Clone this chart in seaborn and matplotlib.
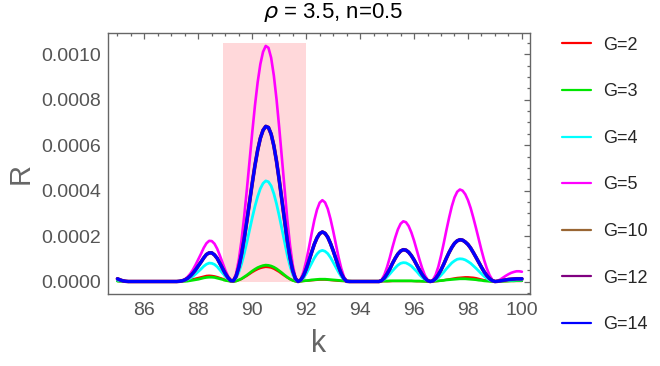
import numpy as np
import pandas as pd
import seaborn as sns
import matplotlib.pyplot as plt
from matplotlib.ticker import MultipleLocator, FormatStrFormatter

# sample grid of k (85.0 ... 100.0, step 0.1)
k = np.round(np.arange(85.0, 100.05, 0.1), 1)

# R values, in units of 1e-4, one row per unit of k
r_g2 = [0.02, 0.01, 0.01, 0, 0, 0, 0, 0, 0, 0,
        0, 0, 0, 0, 0, 0, 0, 0, 0, 0,
        0, 0, 0, 0.01, 0.02, 0.03, 0.05, 0.07, 0.10, 0.13,
        0.16, 0.19, 0.22, 0.25, 0.26, 0.25, 0.23, 0.20, 0.16, 0.12,
        0.07, 0.03, 0.01, 0.00, 0.02, 0.06, 0.11, 0.18, 0.25, 0.33,
        0.41, 0.48, 0.54, 0.59, 0.62, 0.64, 0.63, 0.61, 0.56, 0.49,
        0.42, 0.33, 0.25, 0.17, 0.10, 0.05, 0.01, 0.00, 0.01, 0.02,
        0.03, 0.04, 0.05, 0.06, 0.07, 0.08, 0.08, 0.08, 0.07, 0.06,
        0.05, 0.04, 0.03, 0.02, 0.02, 0.01, 0.01, 0.01, 0.00, 0.00,
        0, 0, 0, 0, 0, 0, 0, 0, 0.01, 0.01,
        0.01, 0.01, 0.02, 0.02, 0.02, 0.02, 0.02, 0.02, 0.02, 0.02,
        0.02, 0.01, 0.01, 0.01, 0.00, 0.00, 0.00, 0.00, 0.01, 0.02,
        0.04, 0.06, 0.08, 0.10, 0.12, 0.14, 0.16, 0.17, 0.18, 0.19,
        0.19, 0.18, 0.17, 0.15, 0.12, 0.09, 0.06, 0.04, 0.02, 0.01,
        0.00, 0.00, 0.01, 0.01, 0.01, 0.02, 0.02, 0.02, 0.02, 0.02,
        0.02]

r_g3 = [0.02, 0.01, 0.01, 0, 0, 0, 0, 0, 0, 0,
        0, 0, 0, 0, 0, 0, 0, 0, 0, 0,
        0, 0, 0, 0.00, 0.01, 0.01, 0.02, 0.04, 0.06, 0.08,
        0.10, 0.13, 0.16, 0.18, 0.19, 0.19, 0.18, 0.15, 0.12, 0.09,
        0.05, 0.03, 0.01, 0.00, 0.02, 0.07, 0.12, 0.20, 0.28, 0.37,
        0.46, 0.54, 0.61, 0.66, 0.70, 0.72, 0.71, 0.68, 0.63, 0.56,
        0.47, 0.38, 0.28, 0.19, 0.11, 0.05, 0.01, 0.00, 0.01, 0.03,
        0.04, 0.05, 0.07, 0.08, 0.09, 0.10, 0.10, 0.10, 0.09, 0.08,
        0.07, 0.06, 0.05, 0.04, 0.03, 0.02, 0.02, 0.01, 0.01, 0.01,
        0.01, 0.01, 0.01, 0.01, 0.01, 0.01, 0.01, 0.01, 0.02, 0.02,
        0.02, 0.03, 0.03, 0.03, 0.03, 0.03, 0.03, 0.03, 0.03, 0.03,
        0.02, 0.02, 0.02, 0.01, 0.01, 0.00, 0.00, 0.01, 0.02, 0.03,
        0.04, 0.05, 0.07, 0.08, 0.09, 0.10, 0.11, 0.12, 0.12, 0.12,
        0.11, 0.10, 0.09, 0.08, 0.06, 0.05, 0.03, 0.02, 0.01, 0.00,
        0.00, 0.00, 0.01, 0.01, 0.02, 0.02, 0.03, 0.03, 0.04, 0.04,
        0.04]

r_g4 = [0.06, 0.03, 0.01, 0, 0, 0, 0, 0, 0, 0,
        0, 0, 0, 0, 0, 0, 0, 0, 0, 0,
        0, 0, 0, 0.00, 0.02, 0.05, 0.09, 0.15, 0.23, 0.33,
        0.44, 0.55, 0.67, 0.76, 0.81, 0.80, 0.75, 0.65, 0.51, 0.37,
        0.23, 0.11, 0.03, 0.02, 0.15, 0.41, 0.77, 1.22, 1.73, 2.27,
        2.81, 3.31, 3.74, 4.09, 4.32, 4.43, 4.39, 4.21, 3.87, 3.42,
        2.89, 2.31, 1.72, 1.16, 0.68, 0.31, 0.08, 0.00, 0.04, 0.16,
        0.34, 0.57, 0.80, 1.03, 1.21, 1.33, 1.37, 1.33, 1.23, 1.06,
        0.85, 0.63, 0.41, 0.22, 0.08, 0.01, 0, 0, 0, 0,
        0, 0, 0, 0, 0, 0, 0, 0, 0.03, 0.09,
        0.20, 0.33, 0.47, 0.60, 0.72, 0.80, 0.83, 0.82, 0.76, 0.68,
        0.56, 0.44, 0.30, 0.18, 0.09, 0.03, 0.00, 0.02, 0.07, 0.16,
        0.28, 0.41, 0.56, 0.69, 0.82, 0.91, 0.98, 1.00, 0.99, 0.95,
        0.88, 0.80, 0.69, 0.58, 0.46, 0.34, 0.23, 0.14, 0.07, 0.02,
        0.00, 0.01, 0.02, 0.03, 0.04, 0.05, 0.06, 0.06, 0.07, 0.07,
        0.07]

r_g5 = [0.12, 0.07, 0.03, 0.01, 0, 0, 0, 0, 0, 0,
        0, 0, 0, 0, 0, 0, 0, 0, 0, 0,
        0, 0, 0, 0.01, 0.04, 0.10, 0.20, 0.34, 0.52, 0.74,
        0.98, 1.22, 1.48, 1.68, 1.79, 1.78, 1.66, 1.44, 1.14, 0.82,
        0.50, 0.24, 0.06, 0.04, 0.35, 0.95, 1.80, 2.86, 4.05, 5.32,
        6.57, 7.75, 8.77, 9.57, 10.11, 10.37, 10.29, 9.85, 9.07, 8.02,
        6.77, 5.41, 4.02, 2.72, 1.60, 0.73, 0.19, 0.00, 0.11, 0.42,
        0.90, 1.48, 2.10, 2.69, 3.16, 3.47, 3.58, 3.48, 3.20, 2.76,
        2.23, 1.64, 1.07, 0.58, 0.21, 0.02, 0, 0, 0, 0,
        0, 0, 0, 0, 0, 0, 0, 0, 0.08, 0.30,
        0.64, 1.05, 1.51, 1.93, 2.29, 2.54, 2.65, 2.61, 2.44, 2.16,
        1.80, 1.39, 0.97, 0.59, 0.28, 0.08, 0.00, 0.07, 0.29, 0.65,
        1.13, 1.68, 2.26, 2.81, 3.31, 3.70, 3.95, 4.05, 4.00, 3.84,
        3.58, 3.23, 2.80, 2.34, 1.85, 1.38, 0.94, 0.57, 0.28, 0.08,
        0.00, 0.03, 0.09, 0.17, 0.25, 0.32, 0.38, 0.42, 0.45, 0.45,
        0.43]

r_g14 = [0.12, 0.07, 0.03, 0.01, 0, 0, 0, 0, 0, 0,
         0, 0, 0, 0, 0, 0, 0, 0, 0, 0,
         0, 0, 0, 0.01, 0.03, 0.07, 0.14, 0.24, 0.37, 0.52,
         0.69, 0.86, 1.04, 1.19, 1.26, 1.26, 1.17, 1.02, 0.80, 0.58,
         0.35, 0.17, 0.04, 0.03, 0.23, 0.63, 1.19, 1.88, 2.67, 3.51,
         4.33, 5.11, 5.78, 6.31, 6.66, 6.83, 6.78, 6.49, 5.98, 5.29,
         4.46, 3.57, 2.65, 1.79, 1.05, 0.48, 0.13, 0.00, 0.07, 0.26,
         0.55, 0.90, 1.28, 1.64, 1.92, 2.11, 2.18, 2.12, 1.95, 1.68,
         1.36, 1.00, 0.65, 0.35, 0.13, 0.01, 0, 0, 0, 0,
         0, 0, 0, 0, 0, 0, 0, 0, 0.04, 0.16,
         0.34, 0.55, 0.80, 1.02, 1.21, 1.34, 1.40, 1.38, 1.29, 1.14,
         0.95, 0.73, 0.51, 0.31, 0.15, 0.04, 0.00, 0.03, 0.13, 0.30,
         0.51, 0.76, 1.03, 1.28, 1.50, 1.68, 1.79, 1.84, 1.82, 1.74,
         1.63, 1.47, 1.27, 1.06, 0.84, 0.63, 0.43, 0.26, 0.13, 0.04,
         0.00, 0.01, 0.03, 0.05, 0.07, 0.09, 0.10, 0.11, 0.12, 0.12,
         0.12]

# G=10 and G=12 sit exactly under the G=14 curve in the picture
r_g10 = r_g14
r_g12 = r_g14

scale = 1e-4
band_k = [88.9, 92.0]
band_top = 0.00105

labels = ['G=2', 'G=3', 'G=4', 'G=5', 'G=10', 'G=12', 'G=14']
series = [r_g2, r_g3, r_g4, r_g5, r_g10, r_g12, r_g14]
colors = ['#ff0000', '#00e600', '#00ffff', '#ff00ff', '#996633', '#800080', '#0000ff']
widths = [1.6, 2.0, 2.0, 1.9, 2.4, 2.6, 2.2]

sns.set_style('white')
plt.rcParams['font.family'] = ['Liberation Sans', 'DejaVu Sans']

fig = plt.figure(figsize=(6.6, 3.66), dpi=100)
ax = fig.add_axes([108 / 660, 1 - 294 / 366, 422 / 660, 261 / 366])

ax.fill_between(band_k, 0, band_top, color='#ffd8da', lw=0, zorder=0)

for lab, vals, col, lw in zip(labels, series, colors, widths):
    sns.lineplot(x=k, y=np.array(vals) * scale, ax=ax, color=col, linewidth=lw,
                 label=lab, sort=False, estimator=None, legend=False)

ax.set_xlim(84.65, 100.3)
ax.set_ylim(-0.000055, 0.001094)
ax.xaxis.set_major_locator(MultipleLocator(2))
ax.xaxis.set_minor_locator(MultipleLocator(0.5))
ax.yaxis.set_major_locator(MultipleLocator(0.0002))
ax.yaxis.set_minor_locator(MultipleLocator(0.00005))
ax.yaxis.set_major_formatter(FormatStrFormatter('%.4f'))

gray = '#666666'
for sp in ax.spines.values():
    sp.set_color(gray)
    sp.set_linewidth(1.0)
ax.tick_params(which='both', direction='in', top=True, right=True, color=gray,
               labelcolor='#555555', labelsize=14, width=0.9)
ax.tick_params(which='major', length=4)
ax.tick_params(which='minor', length=2.2)
ax.tick_params(axis='x', pad=6)
ax.tick_params(axis='y', pad=5)

ax.set_xlabel('k', fontsize=22, color=gray)
ax.set_ylabel('R', fontsize=21, color=gray)
ax.xaxis.set_label_coords(0.498, -0.135)
ax.yaxis.set_label_coords(-0.175, 0.46)

fig.text(0.505, 1 - 13 / 366, r'$\rho$ = 3.5, n=0.5', ha='center', va='center',
         fontsize=16, color='black')

handles = [plt.Line2D([], [], color=c, lw=1.6) for c in colors]
fig.legend(handles, labels, loc='center left', bbox_to_anchor=(562 / 660, 1 - 185 / 366),
           frameon=False, fontsize=13, handlelength=1.6, handletextpad=0.65,
           labelspacing=1.64, borderpad=0, borderaxespad=0)

fig.savefig('out.png', dpi=100)
